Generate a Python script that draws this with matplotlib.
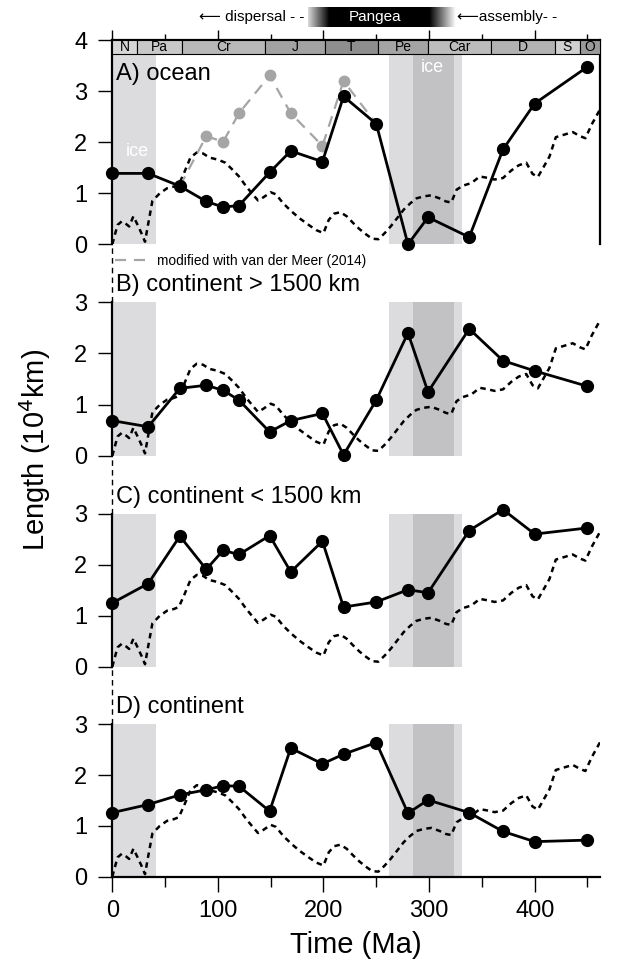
import numpy as np
import matplotlib
matplotlib.use("Agg")
import matplotlib.pyplot as plt
from matplotlib.patches import Rectangle
from matplotlib.lines import Line2D

plt.rcParams['font.family'] = ['Liberation Sans', 'DejaVu Sans']

# time slices (Ma)
t_pts = [0, 34, 64, 89, 105, 120, 149, 169, 199, 219, 250, 280, 299, 338, 370, 400, 450]

ocean = [1.39, 1.39, 1.14, 0.84, 0.73, 0.76, 1.41, 1.83, 1.62, 2.90, 2.36, 0.0, 0.53, 0.14, 1.86, 2.76, 3.48]
cont_gt = [0.69, 0.57, 1.32, 1.38, 1.28, 1.09, 0.47, 0.69, 0.83, 0.02, 1.09, 2.40, 1.25, 2.48, 1.86, 1.66, 1.36]
cont_lt = [1.25, 1.63, 2.56, 1.91, 2.28, 2.20, 2.57, 1.86, 2.46, 1.17, 1.27, 1.51, 1.45, 2.67, 3.08, 2.60, 2.72]
cont = [1.26, 1.42, 1.61, 1.71, 1.79, 1.78, 1.29, 2.53, 2.22, 2.41, 2.64, 1.25, 1.51, 1.26, 0.89, 0.69, 0.72]

# ocean modified with van der Meer (2014)
vdm_t = [64, 89, 105, 120, 149, 169, 199, 219, 250]
vdm = [1.14, 2.12, 2.01, 2.57, 3.31, 2.57, 1.93, 3.20, 2.36]

# reference curve (dashed)
ref_t = [0, 5, 9, 13, 16, 20, 24, 28, 31, 34, 38, 45, 52, 58, 63, 68, 74, 80, 86, 92,
         100, 107, 113, 120, 127, 133, 138, 143, 150, 155, 162, 170, 178, 186, 193, 200,
         205, 210, 216, 222, 228, 234, 240, 246, 252, 258, 264, 270, 276, 282, 288, 295,
         302, 310, 316, 321, 326, 332, 340, 348, 356, 362, 370, 378, 385, 392, 398, 403,
         408, 414, 420, 428, 436, 443, 448, 454, 462]
ref_y = [0.0, 0.38, 0.45, 0.40, 0.35, 0.55, 0.38, 0.20, 0.05, 0.40, 0.85, 1.00, 1.10, 1.13, 1.17, 1.40, 1.70, 1.80, 1.78, 1.70,
         1.66, 1.60, 1.48, 1.33, 1.13, 0.98, 0.86, 0.92, 1.02, 0.98, 0.80, 0.64, 0.50, 0.38, 0.28, 0.22,
         0.48, 0.60, 0.63, 0.55, 0.42, 0.30, 0.20, 0.11, 0.10, 0.22, 0.36, 0.52, 0.68, 0.80, 0.90, 0.94,
         0.96, 0.90, 0.84, 0.82, 1.07, 1.15, 1.20, 1.33, 1.30, 1.27, 1.30, 1.45, 1.55, 1.60, 1.38, 1.32,
         1.50, 1.72, 2.10, 2.15, 2.20, 2.12, 2.08, 2.35, 2.65]

# geologic periods
per_names = ['N', 'Pa', 'Cr', 'J', 'T', 'Pe', 'Car', 'D', 'S', 'O']
per_edges = [0, 23, 66, 145, 201, 252, 299, 359, 419, 443, 462]
per_cols = ['#d6d6d6', '#c8c8c8', '#b8b8b8', '#a2a2a2', '#8e8e8e', '#a4a4a4', '#bcbcbc', '#b2b2b2', '#d0d0d0', '#9a9a9a']

# ice ages
ice_light = [(0, 41), (262, 331)]
ice_dark = [(285, 324)]

labels = ['A) ocean', 'B) continent > 1500 km', 'C) continent < 1500 km', 'D) continent']
series = [ocean, cont_gt, cont_lt, cont]

XMAX = 462
fig = plt.figure(figsize=(6.22, 9.63), dpi=100)
left, width = 0.1805, 0.7844
bottoms = [0.7463, 0.5265, 0.3076, 0.0896]
heights = [0.2119, 0.2198, 0.2189, 0.2180]
ytops = [4.0, 4.13, 4.13, 4.13]

for i in range(4):
    ax = fig.add_axes([left, bottoms[i], width, heights[i]])
    ax.set_facecolor('none')
    ax.set_xlim(0, XMAX)
    ax.set_ylim(0, ytops[i])
    shade_top = 3.73 if i == 0 else 3.0
    for a, b in ice_light:
        ax.add_patch(Rectangle((a, 0), b - a, shade_top, color='#dcdcde', lw=0, zorder=0))
    for a, b in ice_dark:
        ax.add_patch(Rectangle((a, 0), b - a, shade_top, color='#c2c2c4', lw=0, zorder=0))

    ax.plot(ref_t, ref_y, color='k', lw=1.8, ls=(0, (2.2, 1.8)), zorder=2)
    if i == 0:
        ax.plot(vdm_t, vdm, color='#a5a5a5', lw=1.6, ls=(0, (5, 3.5)), marker='o', ms=7.5, zorder=3)
    ax.plot(t_pts, series[i], color='k', lw=2.0, marker='o', ms=8.5, zorder=4, clip_on=False)

    ax.text(4, 3.33, labels[i], fontsize=17, ha='left', va='center', zorder=5)

    for s in ['right', 'top', 'bottom']:
        ax.spines[s].set_visible(False)
    ax.spines['left'].set_linewidth(1.6)

    if i == 0:
        ax.set_yticks([0, 1, 2, 3, 4])
        ax.spines['top'].set_visible(True)
        ax.spines['right'].set_visible(True)
        ax.spines['top'].set_linewidth(1.6)
        ax.spines['right'].set_linewidth(1.6)
        # period bar
        for k in range(len(per_names)):
            x0, x1 = per_edges[k], per_edges[k + 1]
            ax.add_patch(Rectangle((x0, 3.73), x1 - x0, 0.27, facecolor=per_cols[k],
                                   edgecolor='k', lw=0.8, zorder=6))
            ax.text((x0 + x1) / 2, 3.865, per_names[k], fontsize=10, ha='center', va='center', zorder=7)
        ax.text(24, 1.81, 'ice', color='white', fontsize=13, ha='center', va='center', zorder=1)
        ax.text(303, 3.46, 'ice', color='white', fontsize=13, ha='center', va='center', zorder=1)
        ax.xaxis.set_ticks_position('top')
        ax.set_xticks(range(0, 500, 100))
        ax.set_xticks(range(50, 500, 100), minor=True)
        ax.tick_params(axis='x', which='major', direction='out', length=7.5, width=1, labeltop=False)
        ax.tick_params(axis='x', which='minor', direction='out', length=4.5, width=1)
        leg = ax.legend(handles=[Line2D([], [], color='#a5a5a5', lw=1.6, ls=(0, (5, 3.5)))],
                        labels=['modified with van der Meer (2014)'], loc='center left',
                        bbox_to_anchor=(0.005, -0.082), frameon=False, fontsize=9.9,
                        handlelength=2.6, handletextpad=0.5, borderaxespad=0, borderpad=0)
    else:
        ax.set_yticks([0, 1, 2, 3])
        ax.spines['left'].set_bounds(0, 3)
        ax.axvline(0, ymin=3 / ytops[i], ymax=1, color='k', lw=1.0, ls=(0, (4, 3)), clip_on=False)
        if i == 3:
            ax.spines['bottom'].set_visible(True)
            ax.spines['bottom'].set_linewidth(1.6)
            ax.set_xticks(range(0, 500, 100))
            ax.set_xticks(range(50, 500, 100), minor=True)
            ax.tick_params(axis='x', which='major', direction='out', length=11, width=1, pad=6, labelsize=17)
            ax.tick_params(axis='x', which='minor', direction='out', length=7, width=1)
            ax.set_xticklabels(['0', '100', '200', '300', '400'])
            ax.set_xlabel('Time (Ma)', fontsize=21, labelpad=6)
        else:
            ax.set_xticks([])
    ax.tick_params(axis='y', direction='out', length=10, width=1, pad=8, labelsize=17)

# Pangea header
hdr = fig.add_axes([left, 0.972, width, 0.0208])
hdr.set_facecolor('none')
hdr.axis('off')
pg_x = [185, 205, 300, 325]
pg_dark = [0.15, 1.0, 1.0, 0.0]
gx = np.linspace(185, 325, 300)
hdr.imshow(np.interp(gx, pg_x, pg_dark)[None, :], cmap='gray_r', vmin=0, vmax=1,
           extent=[185, 325, 0, 1], aspect='auto', interpolation='bilinear')
hdr.set_xlim(0, XMAX)
hdr.set_ylim(0, 1)
hdr.text(249, 0.5, 'Pangea', color='white', fontsize=11, ha='center', va='center')
hdr.text(132, 0.5, '\u27f5 dispersal - -', fontsize=11, ha='center', va='center',
         family=['Liberation Sans', 'DejaVu Sans'])
hdr.text(326, 0.5, '\u27f5assembly- -', fontsize=11, ha='left', va='center',
         family=['Liberation Sans', 'DejaVu Sans'])

plt.rcParams['mathtext.fontset'] = 'custom'
plt.rcParams['mathtext.rm'] = 'Liberation Sans Narrow'
fig.text(35 / 622, 1 - 450 / 963, 'Length (10$^{4}$km)', rotation=90, fontsize=21,
         ha='center', va='center', family=['Liberation Sans Narrow', 'Liberation Sans'])

plt.savefig('out.png', dpi=100)
